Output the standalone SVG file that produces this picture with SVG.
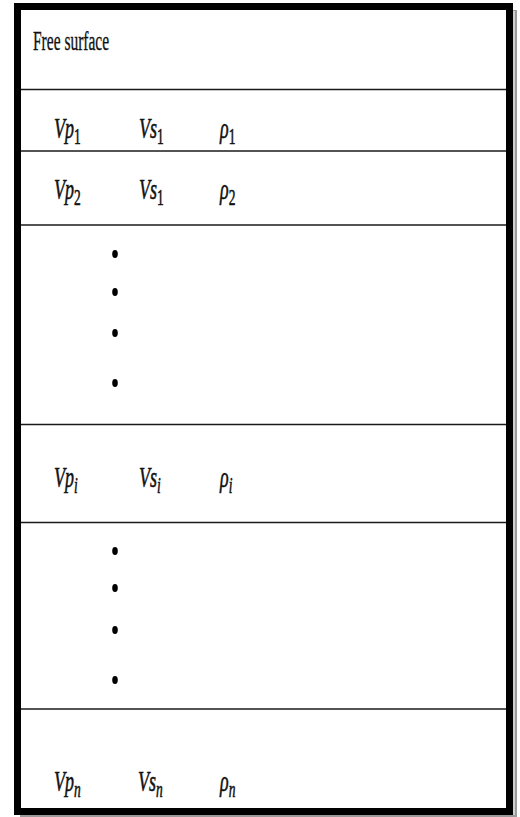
<svg xmlns="http://www.w3.org/2000/svg" width="520" height="817" viewBox="0 0 520 817">
<style>
.lab{font-family:"Liberation Serif",serif;font-style:italic;font-size:18px;fill:#111;stroke:#111;stroke-width:0.35}
.sub{font-size:13.5px}
.num{font-style:normal}
.hl{stroke:#1a1a1a;stroke-width:1.6;fill:none}
.dot{fill:#000}
.title{font-family:"Liberation Serif",serif;font-size:15.5px;fill:#111;stroke:#111;stroke-width:0.2}
</style>
<rect width="520" height="817" fill="#fff"/>
<rect x="20" y="10" width="497" height="807" fill="#9a9a9a"/>
<rect x="21" y="11" width="494" height="804" fill="#cfcfcf"/>
<rect id="frame" x="17.5" y="6.5" width="492" height="805" fill="#fff" stroke="#000" stroke-width="7"/>
<g id="connectors">
<line class="hl" x1="21" y1="89.5" x2="506" y2="89.5"/>
<line class="hl" x1="21" y1="151" x2="506" y2="151"/>
<line class="hl" x1="21" y1="225" x2="506" y2="225"/>
<line class="hl" x1="21" y1="424.5" x2="506" y2="424.5"/>
<line class="hl" x1="21" y1="522.5" x2="506" y2="522.5"/>
<line class="hl" x1="21" y1="709" x2="506" y2="709"/>
</g>
<g id="free-surface">
<text class="title" transform="translate(33,50) scale(1,1.75)">Free surface</text>
</g>
<g id="layer-1">
<text class="lab" transform="translate(54,138) scale(1,1.65)">Vp<tspan class="sub num" dy="3.5">1</tspan></text>
<text class="lab" transform="translate(139,138) scale(1,1.65)">Vs<tspan class="sub num" dy="3.5">1</tspan></text>
<text class="lab" transform="translate(220,138) scale(1,1.65)">ρ<tspan class="sub num" dy="3.5">1</tspan></text>
</g>
<g id="layer-2">
<text class="lab" transform="translate(54,199) scale(1,1.65)">Vp<tspan class="sub num" dy="3.5">2</tspan></text>
<text class="lab" transform="translate(139,199) scale(1,1.65)">Vs<tspan class="sub num" dy="3.5">1</tspan></text>
<text class="lab" transform="translate(220,199) scale(1,1.65)">ρ<tspan class="sub num" dy="3.5">2</tspan></text>
</g>
<g id="dots-1">
<ellipse class="dot" cx="115" cy="254" rx="2.8" ry="4"/>
<ellipse class="dot" cx="115" cy="292" rx="2.8" ry="4"/>
<ellipse class="dot" cx="115" cy="333" rx="2.8" ry="4"/>
<ellipse class="dot" cx="115" cy="383" rx="2.8" ry="4"/>
</g>
<g id="layer-i">
<text class="lab" transform="translate(54,487) scale(1,1.65)">Vp<tspan class="sub" dy="3.5">i</tspan></text>
<text class="lab" transform="translate(139,487) scale(1,1.65)">Vs<tspan class="sub" dy="3.5">i</tspan></text>
<text class="lab" transform="translate(220,487) scale(1,1.65)">ρ<tspan class="sub" dy="3.5">i</tspan></text>
</g>
<g id="dots-2">
<ellipse class="dot" cx="115" cy="551" rx="2.8" ry="4"/>
<ellipse class="dot" cx="115" cy="588" rx="2.8" ry="4"/>
<ellipse class="dot" cx="115" cy="630" rx="2.8" ry="4"/>
<ellipse class="dot" cx="115" cy="680" rx="2.8" ry="4"/>
</g>
<g id="layer-n">
<text class="lab" transform="translate(54,791) scale(1,1.65)">Vp<tspan class="sub" dy="3.5">n</tspan></text>
<text class="lab" transform="translate(138,791) scale(1,1.65)">Vs<tspan class="sub" dy="3.5">n</tspan></text>
<text class="lab" transform="translate(220,791) scale(1,1.65)">ρ<tspan class="sub" dy="3.5">n</tspan></text>
</g>
</svg>
